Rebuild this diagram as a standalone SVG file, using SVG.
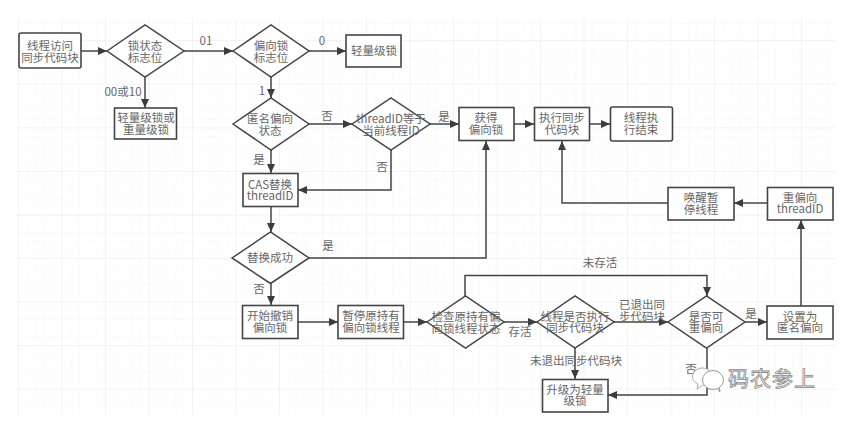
<svg xmlns="http://www.w3.org/2000/svg" width="854" height="444" viewBox="0 0 854 444">
  <style>
    .box { fill: #fff; stroke: #444; stroke-width: 1.6; }
    .dia { fill: #fff; stroke: #444; stroke-width: 1.5; }
    .edge { fill: none; stroke: #444; stroke-width: 1.5; marker-end: url(#tip); }
    .plain { fill: none; stroke: #444; stroke-width: 1.5; }
    text { font-family: "Noto Sans CJK SC", "Liberation Sans", sans-serif; font-size: 11.5px; fill: #666; text-anchor: middle; }
    .lat { font-family: "Liberation Sans", "Noto Sans CJK SC", sans-serif; }
    .mark { font-size: 21px; fill: #fff; stroke: #888; stroke-width: 0.8; text-anchor: start; letter-spacing: 1px; }
  </style>
  <defs>
    <marker id="tip" markerUnits="userSpaceOnUse" markerWidth="10" markerHeight="10" refX="9" refY="4.5" orient="auto">
      <path d="M0 0.5L9 4.5L0 8.5z" fill="#3c3c3c"/>
    </marker>
    <pattern id="fine" patternUnits="userSpaceOnUse" x="18" y="14.4" width="8.7" height="8.7">
      <path d="M0 0H8.7M0 0V8.7" fill="none" stroke="#f7f7f7" stroke-width="1"/>
    </pattern>
    <pattern id="major" patternUnits="userSpaceOnUse" x="18" y="40" width="43.5" height="43.6">
      <path d="M0 0H43.5M0 0V43.6" fill="none" stroke="#ececec" stroke-width="1"/>
    </pattern>
  </defs>

  <rect width="854" height="444" fill="#fff"/>
  <rect x="15" y="18" width="821" height="397" fill="url(#fine)"/>
  <rect x="15" y="18" width="821" height="397" fill="url(#major)"/>

  <g id="connectors">
    <path class="edge" d="M81 51H107"/>
    <path class="edge" d="M184 51H233"/>
    <path class="edge" d="M309 51H346"/>
    <path class="edge" d="M145 77V108"/>
    <path class="edge" d="M271 77V98"/>
    <path class="edge" d="M309 124H352"/>
    <path class="edge" d="M271 150V173"/>
    <path class="edge" d="M391 150V190H298"/>
    <path class="edge" d="M271 207V232"/>
    <path class="edge" d="M309 258H486V141"/>
    <path class="edge" d="M430 124H459"/>
    <path class="edge" d="M514 124H534"/>
    <path class="edge" d="M590 124H610"/>
    <path class="edge" d="M767 203H734"/>
    <path class="edge" d="M668 203H562V141"/>
    <path class="edge" d="M801 306V220"/>
    <path class="edge" d="M271 283V305"/>
    <path class="edge" d="M298 322H338"/>
    <path class="edge" d="M404 322H427"/>
    <path class="edge" d="M504 322H537"/>
    <path class="edge" d="M614 322H668"/>
    <path class="edge" d="M745 322H767"/>
    <path class="edge" d="M465 296V275.500H707V296"/>
    <path class="edge" d="M575 348V379"/>
    <path class="edge" d="M707 348V395H608"/>
  </g>

  <g id="n-start"><rect class="box" x="19" y="33" width="62" height="35" rx="2"/><text x="50" y="50">线程访问</text><text x="50" y="62">同步代码块</text></g>
  <g id="n-lock-state"><path class="dia" d="M107 51L145 25L184 51L145 77z"/><text x="145" y="50">锁状态</text><text x="145" y="62">标志位</text></g>
  <g id="n-biased-flag"><path class="dia" d="M233 51L271 25L309 51L271 77z"/><text x="271" y="50">偏向锁</text><text x="271" y="62">标志位</text></g>
  <g id="n-light"><rect class="box" x="346" y="35" width="55" height="32"/><text x="374" y="55">轻量级锁</text></g>
  <g id="n-light-heavy"><rect class="box" x="114.500" y="108" width="62" height="31"/><text x="146" y="122">轻量级锁或</text><text x="146" y="134">重量级锁</text></g>
  <g id="n-anon"><path class="dia" d="M233 124L271 98L309 124L271 150z"/><text x="270" y="123">匿名偏向</text><text x="270" y="135">状态</text></g>
  <g id="n-thread-eq"><path class="dia" d="M352 124L391 98L430 124L391 150z"/><text x="391" y="123">threadID等于</text><text x="391" y="135">当前线程ID</text></g>
  <g id="n-cas"><rect class="box" x="243" y="173.500" width="55" height="33"/><text x="270" y="189">CAS替换</text><text x="270" y="200">threadID</text></g>
  <g id="n-acquire"><rect class="box" x="459" y="107.500" width="55" height="33"/><text x="486" y="122">获得</text><text x="486" y="134">偏向锁</text></g>
  <g id="n-run"><rect class="box" x="534.500" y="107.500" width="55" height="33"/><text x="562" y="122">执行同步</text><text x="562" y="134">代码块</text></g>
  <g id="n-end"><rect class="box" x="610.500" y="107" width="62" height="34" rx="2"/><text x="641" y="122">线程执</text><text x="641" y="134">行结束</text></g>
  <g id="n-wake"><rect class="box" x="668" y="187.500" width="66" height="32.500"/><text x="701" y="202">唤醒暂</text><text x="701" y="214">停线程</text></g>
  <g id="n-rebias"><rect class="box" x="767.500" y="187.500" width="65.500" height="32.500"/><text x="800" y="202">重偏向</text><text x="800" y="213">threadID</text></g>
  <g id="n-swap-ok"><path class="dia" d="M232 258L270.500 232L309 258L270.500 283.500z"/><text x="270" y="262">替换成功</text></g>
  <g id="n-revoke"><rect class="box" x="242.500" y="305.500" width="55.500" height="33"/><text x="270" y="320">开始撤销</text><text x="270" y="332">偏向锁</text></g>
  <g id="n-suspend"><rect class="box" x="338" y="305.500" width="65.500" height="33"/><text x="371" y="320">暂停原持有</text><text x="371" y="332">偏向锁线程</text></g>
  <g id="n-check"><path class="dia" d="M427 322L465.500 296L504 322L465.500 348z"/><text x="466" y="321">检查原持有偏</text><text x="466" y="333">向锁线程状态</text></g>
  <g id="n-in-sync"><path class="dia" d="M537 322L575 296L614 322L575 348z"/><text x="575" y="321">线程是否执行</text><text x="575" y="332">同步代码块</text></g>
  <g id="n-can-rebias"><path class="dia" d="M668 322L706.500 296L745 322L706.500 348z"/><text x="706" y="321">是否可</text><text x="706" y="332">重偏向</text></g>
  <g id="n-set-anon"><rect class="box" x="767" y="306" width="66" height="33"/><text x="800" y="321">设置为</text><text x="800" y="332">匿名偏向</text></g>
  <g id="n-upgrade"><rect class="box" x="542.500" y="379.500" width="65.500" height="32.500"/><text x="575" y="394">升级为轻量</text><text x="575" y="405">级锁</text></g>

  <g id="edge-labels">
    <text x="206" y="45">01</text>
    <text x="322" y="45">0</text>
    <text x="123" y="96">00或10</text>
    <text x="262" y="95">1</text>
    <text x="327" y="120">否</text>
    <text x="444" y="121">是</text>
    <text x="259" y="164">是</text>
    <text x="382" y="171">否</text>
    <text x="328" y="250">是</text>
    <text x="259" y="293">否</text>
    <text x="520" y="336">存活</text>
    <text x="600" y="267">未存活</text>
    <text x="642" y="309">已退出同</text>
    <text x="642" y="321">步代码块</text>
    <text x="751" y="318">是</text>
    <text x="576" y="365">未退出同步代码块</text>
    <text x="691" y="373">否</text>
  </g>

  <g id="watermark">
    <path d="M694 372C699 366 708 367 711 373C716 383 708 385 703 385L697 389L698 384C692 381 691 376 694 372z" fill="#fff" stroke="#aaa" stroke-width="1"/>
    <ellipse cx="713" cy="380" rx="10.500" ry="9.500" fill="#fff" stroke="#999" stroke-width="1"/>
    <path d="M717 388L720 392L719 387" fill="#fff" stroke="#999" stroke-width="1"/>
    <text class="mark" x="728" y="386">码农参上</text>
  </g>
</svg>
